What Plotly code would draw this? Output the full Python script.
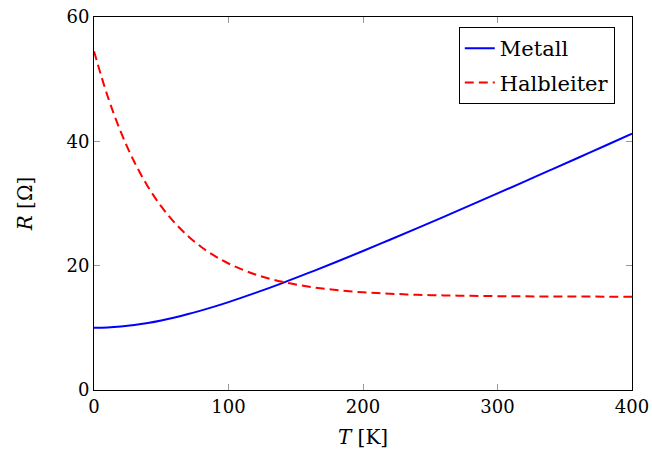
import plotly.graph_objects as go

T = [0, 10, 20, 30, 40, 50, 60, 70, 80, 90, 100, 120, 140, 160, 180, 200,
     220, 240, 260, 280, 300, 320, 340, 360, 380, 400]
R_metall = [10.00, 10.05, 10.20, 10.44, 10.77, 11.18, 11.66, 12.21, 12.81, 13.45,
            14.14, 15.62, 17.20, 18.87, 20.59, 22.36, 24.17, 26.00, 27.86, 29.73,
            31.62, 33.53, 35.44, 37.36, 39.29, 41.23]
R_halbleiter = [54.50, 47.34, 41.48, 36.68, 32.75, 29.53, 26.90, 24.74, 22.97, 21.53,
                20.35, 18.58, 17.40, 16.61, 16.08, 15.72, 15.49, 15.32, 15.22, 15.15,
                15.10, 15.07, 15.04, 15.03, 15.02, 15.01]
x_ticks = [0, 100, 200, 300, 400]
y_ticks = [0, 20, 40, 60]

FONT = "DejaVu Serif"
FS = 18
FS_TITLE = 20
FS_LEG = 21

fig = go.Figure()
fig.add_trace(go.Scatter(x=T, y=R_metall, mode="lines", name="Metall", legendgroup="a",
                         line=dict(color="#0000ff", width=2, shape="spline")))
fig.add_trace(go.Scatter(x=T, y=R_halbleiter, mode="lines", name="Halbleiter", legendgroup="b",
                         line=dict(color="#ff0000", width=2, dash="9px,5px", shape="spline")))

axis_common = dict(showgrid=False, zeroline=False, showline=True, linecolor="black",
                   linewidth=1, mirror="ticks", ticks="inside", ticklen=6,
                   tickcolor="#999999", tickwidth=1, automargin=False,
                   ticklabeloverflow="allow",
                   tickfont=dict(family=FONT, size=FS, color="black"))

fig.update_xaxes(range=[0, 400], tickvals=x_ticks, ticktext=[str(v) for v in x_ticks],
                 title=dict(text="<i>T</i> [K]", font=dict(family=FONT, size=FS_TITLE, color="black"),
                            standoff=14),
                 **axis_common)
fig.update_yaxes(range=[0, 60], tickvals=y_ticks, ticktext=[str(v) for v in y_ticks],
                 title=dict(text="<i>R</i> [Ω]", font=dict(family=FONT, size=FS_TITLE, color="black"),
                            standoff=28),
                 **axis_common)

fig.update_layout(
    width=652, height=461,
    margin=dict(l=94, r=20, t=17, b=71, autoexpand=False),
    plot_bgcolor="white", paper_bgcolor="white",
    font=dict(family=FONT, size=FS, color="black"),
    legend=dict(x=0.968, y=0.973, xanchor="right", yanchor="top",
                bordercolor="black", borderwidth=1, bgcolor="white",
                font=dict(family=FONT, size=FS_LEG, color="black"),
                tracegroupgap=4),
    showlegend=True,
)

fig.write_html("out.html", config={"displayModeBar": False},
               post_script="document.body.style.margin='0';document.body.style.overflow='hidden';")
